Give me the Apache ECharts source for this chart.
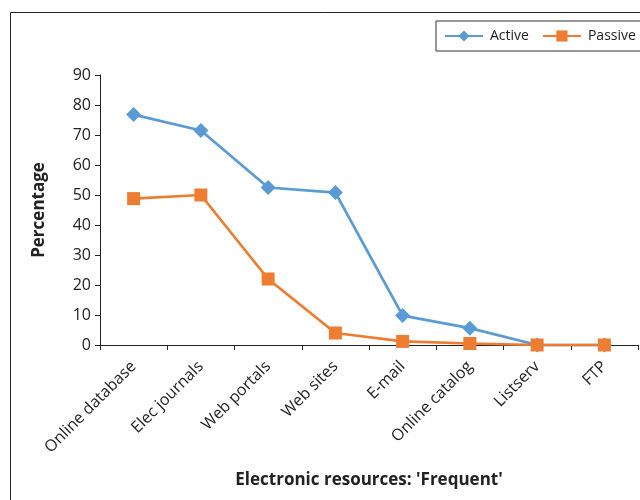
<!DOCTYPE html>
<html>
<head>
<meta charset="utf-8">
<script src="https://cdn.jsdelivr.net/npm/echarts@6/dist/echarts.min.js"></script>
<style>html,body{margin:0;padding:0;background:#fff}#c{width:640px;height:500px}</style>
</head>
<body>
<div id="c"></div>
<script>
const categories = ['Online database','Elec journals','Web portals','Web sites','E-mail','Online catalog','Listserv','FTP'];
const activeValues = [76.8, 71.5, 52.5, 50.8, 9.8, 5.6, 0, 0];
const passiveValues = [48.8, 50.0, 22.0, 4.0, 1.2, 0.5, 0, 0];
const yTicks = {min: 0, max: 90, interval: 10};

const FONT = 'Open Sans';
const chart = echarts.init(document.getElementById('c'), null, {renderer: 'canvas'});
chart.setOption({
  animation: false,
  backgroundColor: '#fff',
  textStyle: {fontFamily: FONT},
  graphic: [{
    type: 'rect', shape: {x: 10.5, y: 12.5, width: 700, height: 600},
    style: {fill: 'none', stroke: '#222', lineWidth: 1}, silent: true, z: -1
  }],
  legend: {
    orient: 'horizontal',
    left: 436, top: 21, width: 400,
    padding: [8, 10, 8, 8],
    itemGap: 13,
    itemWidth: 38, itemHeight: 14,
    borderColor: '#333', borderWidth: 1,
    backgroundColor: '#fff',
    textStyle: {fontFamily: FONT, fontSize: 14, color: '#222', padding: [0, 0, 0, 2]},
    data: ['Active', 'Passive']
  },
  grid: {left: 100, right: 2, top: 75, bottom: 155, containLabel: false},
  xAxis: {
    type: 'category', data: categories, boundaryGap: true,
    axisLine: {lineStyle: {color: '#222', width: 1}},
    axisTick: {show: true, length: 5, lineStyle: {color: '#222'}},
    axisLabel: {rotate: 45, fontFamily: FONT, fontSize: 16, color: '#222', margin: 19, interval: 0},
    name: "Electronic resources: 'Frequent'", nameLocation: 'middle', nameGap: 127,
    nameTextStyle: {fontFamily: FONT, fontSize: 17, fontWeight: 'bold', color: '#222'}
  },
  yAxis: {
    type: 'value', min: yTicks.min, max: yTicks.max, interval: yTicks.interval,
    axisLine: {show: true, lineStyle: {color: '#222', width: 1}},
    axisTick: {show: true, length: 5, lineStyle: {color: '#222'}},
    splitLine: {show: false},
    axisLabel: {fontFamily: FONT, fontSize: 16, color: '#222', margin: 9},
    name: 'Percentage', nameLocation: 'middle', nameGap: 52,
    nameTextStyle: {fontFamily: FONT, fontSize: 17, fontWeight: 'bold', color: '#222'}
  },
  series: [{
    name: 'Active', type: 'line', data: activeValues,
    symbol: 'diamond', symbolSize: 15,
    itemStyle: {color: '#5B9BD5'},
    lineStyle: {color: '#5B9BD5', width: 2.75}
  }, {
    name: 'Passive', type: 'line', data: passiveValues,
    symbol: 'rect', symbolSize: 13,
    itemStyle: {color: '#ED7D31'},
    lineStyle: {color: '#ED7D31', width: 2.75}
  }]
});
</script>
</body>
</html>
